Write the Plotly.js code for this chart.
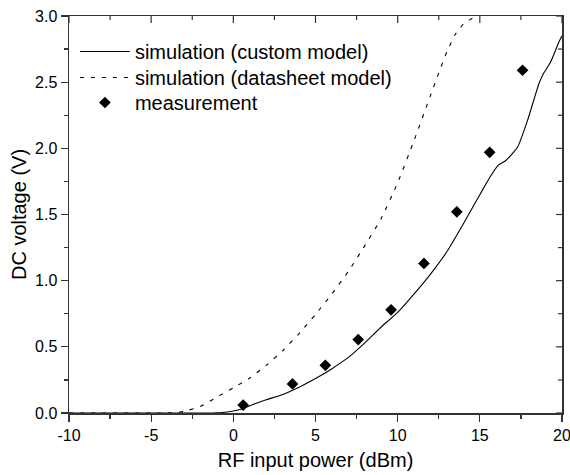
<!DOCTYPE html>
<html>
<head>
<meta charset="utf-8">
<script src="https://cdn.plot.ly/plotly-3.0.1.min.js"></script>
<style>html,body{margin:0;padding:0;background:#fff;}#chart{width:570px;height:475px;}</style>
</head>
<body>
<div id="chart"></div>
<script>
// Simulation (custom model)
var customX = [-10, -1.5, -1, -0.5, 0, 0.5, 1, 2, 3, 4, 5, 6, 7, 8, 9, 10, 11, 12, 13, 14, 15, 15.6, 16.1, 16.6, 17.3, 17.9, 18.6, 18.85, 19.3, 19.8, 20];
var customY = [0, 0, 0.002, 0.006, 0.015, 0.03, 0.055, 0.1, 0.14, 0.195, 0.26, 0.335, 0.42, 0.53, 0.65, 0.76, 0.9, 1.05, 1.22, 1.43, 1.65, 1.78, 1.87, 1.91, 2.01, 2.21, 2.49, 2.56, 2.65, 2.8, 2.85];
// Simulation (datasheet model)
var sheetX = [-10, -4, -3.5, -3, -2, -1, 0, 1, 2, 3, 4, 5, 6, 7, 8, 9, 10, 11, 12, 12.5, 13, 13.5, 14, 14.5, 14.8];
var sheetY = [0, 0, 0.003, 0.012, 0.05, 0.12, 0.19, 0.265, 0.36, 0.47, 0.6, 0.745, 0.9, 1.07, 1.265, 1.47, 1.74, 2.06, 2.40, 2.57, 2.73, 2.86, 2.94, 2.98, 2.995];
// Measurement
var measX = [0.6, 3.6, 5.6, 7.6, 9.6, 11.6, 13.6, 15.6, 17.6];
var measY = [0.06, 0.22, 0.36, 0.555, 0.78, 1.13, 1.52, 1.97, 2.59];
// Tick labels
var xTickVals = [-10, -5, 0, 5, 10, 15, 20];
var xTickText = ['-10', '-5', '0', '5', '10', '15', '20'];
var yTickVals = [0, 0.5, 1, 1.5, 2, 2.5, 3];
var yTickText = ['0.0', '0.5', '1.0', '1.5', '2.0', '2.5', '3.0'];

var FONT = 'Liberation Sans, Arial, sans-serif';
var AX = '#333';
var PLOT_W = 570 - 69 - 8, PLOT_H = 475 - 16 - 62;

var traces = [
  {x: customX, y: customY, mode: 'lines', name: 'simulation (custom model)', legend: 'legend',
   line: {color: '#000', width: 1.1, shape: 'spline', smoothing: 0.5}, hoverinfo: 'skip'},
  {x: sheetX, y: sheetY, mode: 'lines', name: 'simulation (datasheet model)', legend: 'legend2',
   line: {color: '#000', width: 1.1, dash: '4px,7px', shape: 'spline', smoothing: 0.5}, hoverinfo: 'skip'},
  {x: measX, y: measY, mode: 'markers', name: 'measurement', legend: 'legend3',
   marker: {symbol: 'diamond', size: 9, color: '#000'}, hoverinfo: 'skip'}
];

// inward-pointing frame ticks on the top and right edges (major + half-step minor)
var frameTicks = [];
var xStep = (xTickVals[1] - xTickVals[0]) / 2;
for (var i = 0; i <= (xTickVals.length - 1) * 2; i++) {
  var xv = xTickVals[0] + i * xStep, lx = (i % 2 === 0 ? 7 : 4) / PLOT_H;
  frameTicks.push({type: 'line', xref: 'x', yref: 'paper', x0: xv, x1: xv, y0: 1, y1: 1 - lx,
                   line: {color: AX, width: 1.2}, layer: 'above'});
}
var yStep = (yTickVals[1] - yTickVals[0]) / 2;
for (var j = 0; j <= (yTickVals.length - 1) * 2; j++) {
  var yv = yTickVals[0] + j * yStep, ly = (j % 2 === 0 ? 6 : 4) / PLOT_W;
  frameTicks.push({type: 'line', xref: 'paper', yref: 'y', x0: 1, x1: 1 - ly, y0: yv, y1: yv,
                   line: {color: AX, width: 1.2}, layer: 'above'});
}

function leg(yv) {
  return {x: 0.012, y: yv, xanchor: 'left', yanchor: 'middle',
          bgcolor: 'rgba(0,0,0,0)', borderwidth: 0,
          font: {family: FONT, size: 20, color: '#000'},
          itemwidth: 50, tracegroupgap: 0};
}

var layout = {
  width: 570, height: 475,
  margin: {l: 69, r: 8, t: 16, b: 62},
  paper_bgcolor: '#fff', plot_bgcolor: '#fff',
  font: {family: FONT, color: '#000', size: 16},
  showlegend: true,
  legend: leg(0.9106),
  legend2: leg(0.8451),
  legend3: leg(0.7821),
  shapes: frameTicks,
  xaxis: {
    range: [-10, 20], showgrid: false, zeroline: false,
    showline: true, linecolor: AX, linewidth: 1.5, mirror: true,
    tickmode: 'array', tickvals: xTickVals, ticktext: xTickText,
    ticks: 'outside', ticklen: 7, tickwidth: 1.2, tickcolor: AX,
    ticklabeloverflow: 'allow',
    minor: {tickmode: 'linear', tick0: 0, dtick: 2.5, ticks: 'outside', ticklen: 4, tickwidth: 1.2, tickcolor: AX, showgrid: false},
    tickfont: {family: FONT, size: 16, color: '#000'},
    title: {text: 'RF input power (dBm)', font: {family: FONT, size: 20, color: '#000'}, standoff: 10}
  },
  yaxis: {
    range: [0, 3], showgrid: false, zeroline: false,
    showline: true, linecolor: AX, linewidth: 1.5, mirror: true,
    tickmode: 'array', tickvals: yTickVals, ticktext: yTickText,
    ticks: 'outside', ticklen: 7, tickwidth: 1.2, tickcolor: AX,
    minor: {tickmode: 'linear', tick0: 0, dtick: 0.25, ticks: 'outside', ticklen: 4, tickwidth: 1.2, tickcolor: AX, showgrid: false},
    tickfont: {family: FONT, size: 16, color: '#000'},
    title: {text: 'DC voltage (V)', font: {family: FONT, size: 20, color: '#000'}, standoff: 3}
  }
};

Plotly.newPlot('chart', traces, layout, {staticPlot: true, displayModeBar: false});
</script>
</body>
</html>
